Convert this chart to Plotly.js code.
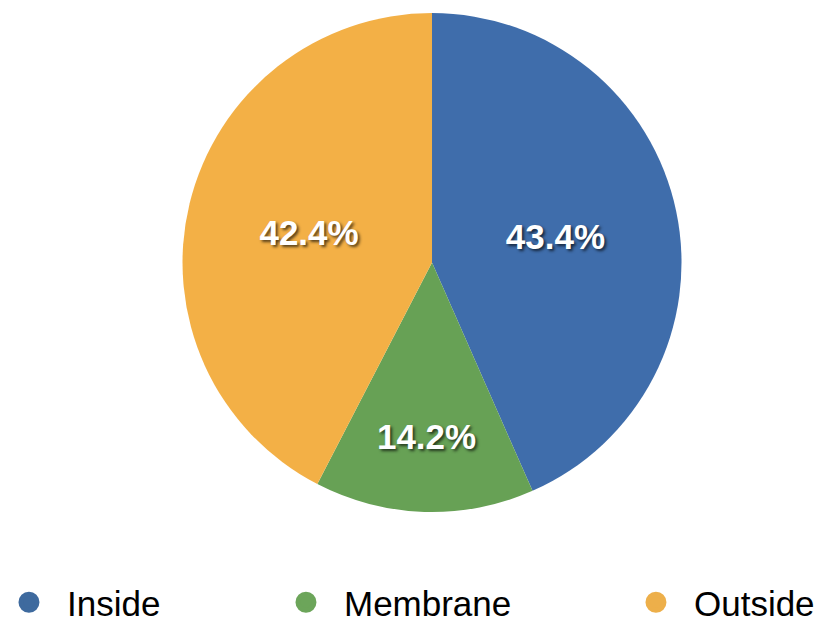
<!DOCTYPE html>
<html>
<head>
<meta charset="utf-8">
<script src="https://cdn.plot.ly/plotly-3.0.1.min.js"></script>
<style>
html,body{margin:0;padding:0;background:#fff;}
#chart{width:821px;height:622px;}
</style>
</head>
<body>
<div id="chart"></div>
<script>
const categories = ["Inside", "Membrane", "Outside"];
const values = [43.4, 14.2, 42.4];
const sliceColors = ["#3f6dab", "#67a155", "#f3b046"];
const legendColors = ["#3e6a9e", "#6ca55a", "#edaf4a"];

const font = "Liberation Sans, Arial, Helvetica, sans-serif";

const traces = [{
  type: "pie",
  labels: categories,
  values: values,
  sort: false,
  direction: "clockwise",
  rotation: 0,
  marker: {colors: sliceColors, line: {width: 0}},
  texttemplate: "%{percent:.1%}",
  textposition: "inside",
  insidetextorientation: "horizontal",
  textfont: {family: font, size: 35, color: "#ffffff", weight: "bold",
             shadow: "2px 2px 3px rgba(0,0,0,0.65)"},
  hoverinfo: "label+percent",
  showlegend: false,
  domain: {x: [0.2223, 0.8301], y: [0.1768, 0.9791]}
}];

const legendNames = ["legend", "legend2", "legend3"];
categories.forEach((c, i) => {
  traces.push({
    type: "scatter",
    mode: "markers",
    x: [null], y: [null],
    name: c,
    legend: legendNames[i],
    marker: {color: legendColors[i], size: 16, symbol: "circle", line: {color: legendColors[i], width: 5}},
    showlegend: true,
    hoverinfo: "skip"
  });
});

const legStyle = (x) => ({
  x: x, y: -0.016, xanchor: "left", yanchor: "bottom",
  orientation: "h",
  font: {family: font, size: 35, color: "#000"},
  itemwidth: 66,
  bgcolor: "rgba(0,0,0,0)",
  borderwidth: 0
});

const layout = {
  width: 821, height: 622,
  margin: {l: 0, r: 0, t: 0, b: 0, autoexpand: false},
  paper_bgcolor: "#ffffff",
  plot_bgcolor: "rgba(0,0,0,0)",
  xaxis: {visible: false, domain: [0, 0.01]},
  yaxis: {visible: false, domain: [0, 0.01]},
  showlegend: true,
  legend: legStyle(-0.011),
  legend2: legStyle(0.3264),
  legend3: legStyle(0.7527)
};

Plotly.newPlot("chart", traces, layout, {displayModeBar: false, staticPlot: true});
</script>
</body>
</html>
